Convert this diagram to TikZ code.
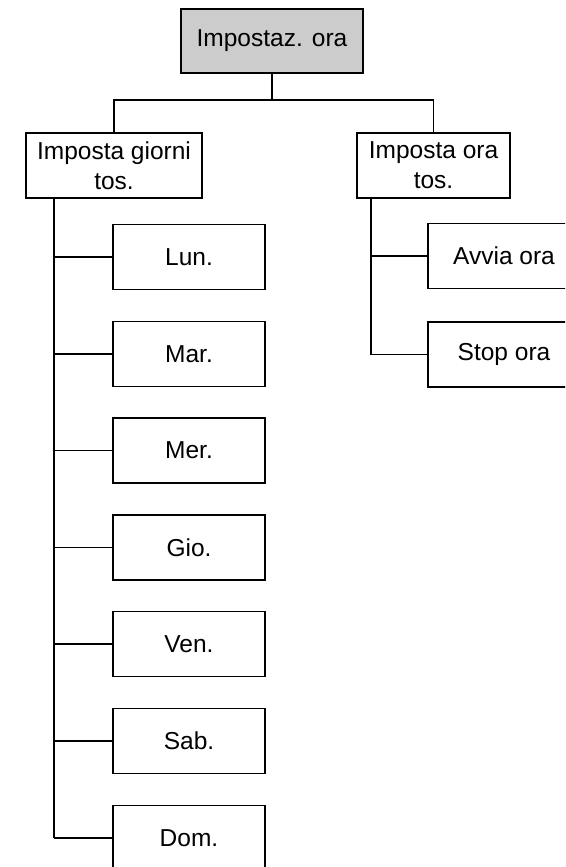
\documentclass[tikz,border=0pt]{standalone}
\usepackage{fontspec}
\setmainfont{Liberation Sans}
\usepackage{tikz}
\usetikzlibrary{positioning,calc}
\definecolor{boxgray}{HTML}{CCCCCC}
\newcommand{\nl}{\\}

\begin{document}
\begin{tikzpicture}[x=1pt,y=-1pt,
  box/.style={rectangle,draw=black,line width=1.5pt,fill=white,align=center,
    font=\fontsize{24.5}{30}\selectfont,inner sep=0pt},
  head/.style={box,fill=boxgray,minimum width=182pt,minimum height=64pt},
  group/.style={box,minimum height=65pt},
  leaf/.style={box,minimum width=152pt,minimum height=65pt},
  wire/.style={line width=1.5pt,color=black},
]
  \useasboundingbox (0,0) rectangle (565,867);
  \clip (0,0) rectangle (565,867);
  \node[head] (top) at (272,41) {Impostaz. ora};
  \node[group,minimum width=176pt] (days) at (114,165.5) {Imposta giorni\nl tos.};
  \node[group,minimum width=153pt] (hours) at (433.5,165.5) {Imposta ora\nl tos.};
  \coordinate (hub) at (272,100);
  \draw[wire] (top) -- (hub);
  \draw[wire] (days.north) |- (hub) -| (hours.north);
  % days of the week
  \coordinate (dtrunk) at (54,198);
  \foreach \nm/\txt [count=\i from 0] in {lun/Lun.,mar/Mar.,mer/Mer.,gio/Gio.,ven/Ven.,sab/Sab.,dom/Dom.}{
    \node[leaf] (\nm) at (189,{257+96.8*\i}) {\txt};
    \draw[wire] (dtrunk |- \nm.west) -- (\nm.west);
  }
  \draw[wire] (dtrunk) -- (dtrunk |- dom.west);
  % start / stop
  \coordinate (htrunk) at (371,198);
  \node[leaf] (avvia) at (504,256) {Avvia ora};
  \node[leaf] (stop) at (504,354.5) {Stop ora};
  \draw[wire] (htrunk) |- (stop.west);
  \draw[wire] (htrunk |- avvia.west) -- (avvia.west);
\end{tikzpicture}
\end{document}
